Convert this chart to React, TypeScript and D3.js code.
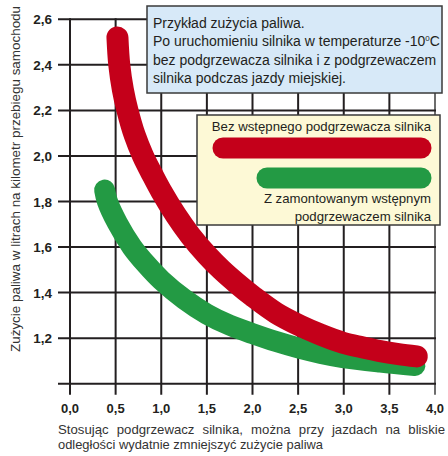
import React, { useEffect, useRef } from 'react';
import * as d3 from 'd3';

// values
const xTicks = [0, 0.5, 1, 1.5, 2, 2.5, 3, 3.5, 4];
const yTicks = [1.0, 1.2, 1.4, 1.6, 1.8, 2.0, 2.2, 2.4, 2.6];

const redX = [0.52, 0.54, 0.58, 0.63, 0.71, 0.8, 0.9, 1.0, 1.16, 1.32, 1.5, 1.66, 1.83, 2.0, 2.26, 2.52, 2.75, 2.99, 3.2, 3.4, 3.6, 3.8];
const redY = [2.52, 2.4, 2.29, 2.2, 2.09, 2.0, 1.92, 1.845, 1.74, 1.65, 1.565, 1.5, 1.44, 1.385, 1.31, 1.255, 1.215, 1.18, 1.16, 1.143, 1.13, 1.12];

const greenX = [0.38, 0.41, 0.52, 0.68, 0.84, 1.0, 1.25, 1.5, 1.75, 2.0, 2.26, 2.52, 2.75, 2.99, 3.4, 3.78];
const greenY = [1.85, 1.8, 1.705, 1.6, 1.522, 1.455, 1.372, 1.306, 1.257, 1.22, 1.185, 1.155, 1.133, 1.115, 1.095, 1.08];

const noteLines = [
  'Przykład zużycia paliwa.',
  'Po uruchomieniu silnika w temperaturze -10',
  'bez podgrzewacza silnika i z podgrzewaczem',
  'silnika podczas jazdy miejskiej.',
];

const legendRed = 'Bez wstępnego podgrzewacza silnika';
const legendGreen = ['Z zamontowanym wstępnym', 'podgrzewaczem silnika'];

const yTitle = 'Zużycie paliwa w litrach na kilometr przebiegu samochodu';
const caption1 = 'Stosując podgrzewacz silnika, można przy jazdach na bliskie';
const caption2 = 'odległości wydatnie zmniejszyć zużycie paliwa';

const RED = '#c4001a';
const GREEN = '#239a44';
const INK = '#231f20';
const FONT = '"Liberation Sans", Arial, sans-serif';

const App = () => {
  const ref = useRef<SVGSVGElement | null>(null);

  useEffect(() => {
    if (!ref.current) return;
    const svg = d3.select(ref.current);
    svg.selectAll('*').remove();

    const x = d3.scaleLinear().domain([0, 4]).range([70, 435]);
    const y = d3.scaleLinear().domain([1.0, 2.6]).range([383.7, 19.3]);

    const g = svg.append('g').attr('font-family', FONT).attr('fill', INK);

    // grid
    g.selectAll('.vline')
      .data(xTicks)
      .enter().append('line')
      .attr('x1', d => x(d)).attr('x2', d => x(d))
      .attr('y1', y(2.6) - 1).attr('y2', y(1.0) + 11)
      .attr('stroke', (d, i) => (i === xTicks.length - 1 ? '#6d6d6d' : INK))
      .attr('stroke-width', 2);

    g.selectAll('.hline')
      .data(yTicks)
      .enter().append('line')
      .attr('x1', x(0) - 12).attr('x2', x(4) + 1)
      .attr('y1', d => y(d)).attr('y2', d => y(d))
      .attr('stroke', INK)
      .attr('stroke-width', 2);

    // tick labels
    const fmt = (v: number) => v.toFixed(1).replace('.', ',');
    g.selectAll('.ylab')
      .data(yTicks.slice(1))
      .enter().append('text')
      .attr('x', 52).attr('y', d => y(d) + 5)
      .attr('text-anchor', 'end')
      .attr('font-size', 13.5).attr('font-weight', 'bold')
      .text(d => fmt(d));

    g.selectAll('.xlab')
      .data(xTicks)
      .enter().append('text')
      .attr('x', d => x(d)).attr('y', 413)
      .attr('text-anchor', 'middle')
      .attr('font-size', 13).attr('font-weight', 'bold')
      .text(d => fmt(d));

    // curves
    const line = d3.line<[number, number]>()
      .x(d => x(d[0]))
      .y(d => y(d[1]))
      .curve(d3.curveCatmullRom.alpha(0.5));

    const greenPts = greenX.map((v, i) => [v, greenY[i]] as [number, number]);
    const redPts = redX.map((v, i) => [v, redY[i]] as [number, number]);

    g.append('path').attr('d', line(greenPts))
      .attr('fill', 'none').attr('stroke', GREEN)
      .attr('stroke-width', 21).attr('stroke-linecap', 'round');
    g.append('path').attr('d', line(redPts))
      .attr('fill', 'none').attr('stroke', RED)
      .attr('stroke-width', 22).attr('stroke-linecap', 'round');

    // note box
    g.append('rect')
      .attr('x', 147).attr('y', 6).attr('width', 295).attr('height', 87)
      .attr('fill', '#d7e9f8').attr('stroke', '#3a3a3a').attr('stroke-width', 1.5);
    noteLines.forEach((t, i) => {
      const tx = g.append('text')
        .attr('x', 153).attr('y', 28 + i * 18.4)
        .attr('font-size', 14)
        .text(t);
      if (i === 1) {
        tx.append('tspan').attr('dy', -5).attr('font-size', 8).text('0');
        tx.append('tspan').attr('dy', 5).text('C');
      }
    });

    // legend box
    g.append('rect')
      .attr('x', 197).attr('y', 115).attr('width', 243).attr('height', 110)
      .attr('fill', '#fdf9d6').attr('stroke', '#3a3a3a').attr('stroke-width', 1.5);
    g.append('text')
      .attr('x', 431).attr('y', 131).attr('text-anchor', 'end')
      .attr('font-size', 13.2).text(legendRed);
    g.append('line')
      .attr('x1', 223).attr('x2', 421).attr('y1', 148).attr('y2', 148)
      .attr('stroke', RED).attr('stroke-width', 21).attr('stroke-linecap', 'round');
    g.append('line')
      .attr('x1', 267).attr('x2', 421).attr('y1', 178).attr('y2', 178)
      .attr('stroke', GREEN).attr('stroke-width', 21).attr('stroke-linecap', 'round');
    legendGreen.forEach((t, i) => {
      g.append('text')
        .attr('x', 431).attr('y', 203 + i * 17.5).attr('text-anchor', 'end')
        .attr('font-size', 13.2).text(t);
    });

    // y axis title
    g.append('text')
      .attr('transform', 'translate(20,179) rotate(-90)')
      .attr('text-anchor', 'middle')
      .attr('font-size', 13)
      .attr('textLength', 346).attr('lengthAdjust', 'spacingAndGlyphs')
      .attr('fill', '#333')
      .text(yTitle);

    // caption, first line justified word by word
    const words = caption1.split(' ');
    const left = 58, right = 445;
    const nodes = words.map(w => g.append('text')
      .attr('y', 434).attr('font-size', 13.2).attr('fill', '#333').text(w));
    const widths = nodes.map(n => (n.node() as SVGTextElement).getComputedTextLength());
    const gap = (right - left - d3.sum(widths)) / (words.length - 1);
    let cx = left;
    nodes.forEach((n, i) => {
      n.attr('x', cx);
      cx += widths[i] + gap;
    });
    g.append('text')
      .attr('x', left).attr('y', 449).attr('font-size', 13.2).attr('fill', '#333')
      .attr('textLength', 265).attr('lengthAdjust', 'spacingAndGlyphs')
      .text(caption2);
  }, []);

  return (
    <svg ref={ref} width={448} height={456}
      style={{ position: 'absolute', left: 0, top: 0, background: '#fff' }} />
  );
};

export default App;
